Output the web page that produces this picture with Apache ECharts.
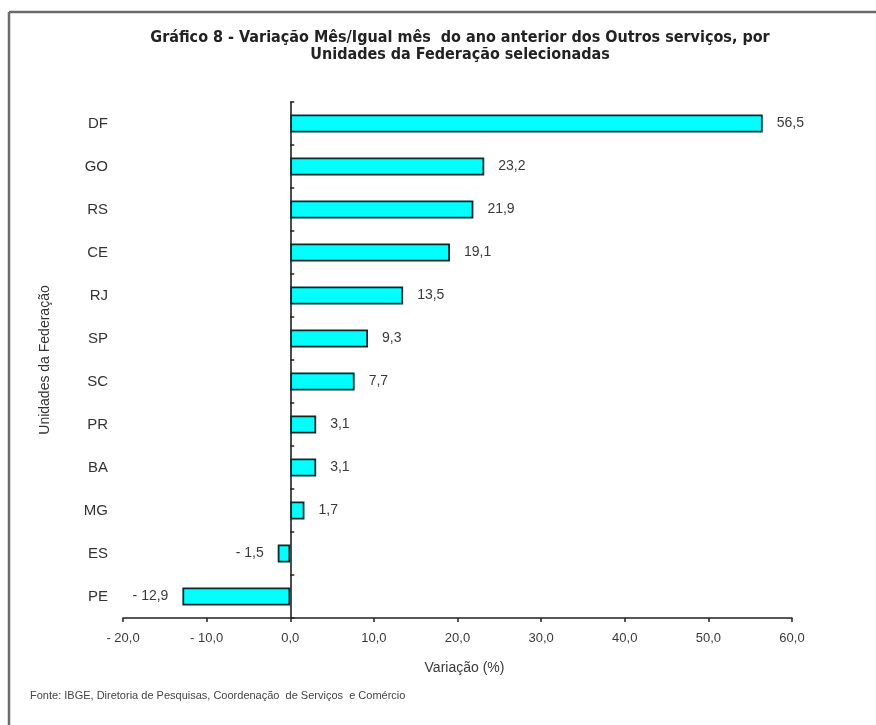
<!DOCTYPE html>
<html>
<head>
<meta charset="utf-8">
<script src="https://cdn.jsdelivr.net/npm/echarts@6/dist/echarts.min.js"></script>
<style>
  html, body { margin: 0; padding: 0; background: #fff; }
  #chart { width: 876px; height: 725px; }
</style>
</head>
<body>
<div id="chart"></div>
<script>
// Unidades da Federação, from top to bottom
const ufs = ['DF', 'GO', 'RS', 'CE', 'RJ', 'SP', 'SC', 'PR', 'BA', 'MG', 'ES', 'PE'];
// Variação mês / igual mês do ano anterior (%)
const variacao = [56.5, 23.2, 21.9, 19.1, 13.5, 9.3, 7.7, 3.1, 3.1, 1.7, -1.5, -12.9];
// Value axis range and step
const axisMin = -20;
const axisMax = 60;
const axisStep = 10;

const fmt = v => (v < 0 ? '- ' : '') + Math.abs(v).toFixed(1).replace('.', ',');

const chart = echarts.init(document.getElementById('chart'), null, { renderer: 'canvas' });

const textFont = 'Liberation Sans, Arial, sans-serif';
const titleFont = '"DejaVu Sans Condensed", "Liberation Sans Narrow", "Liberation Sans", sans-serif';

chart.setOption({
  backgroundColor: '#ffffff',
  animation: false,
  grid: { left: 123, right: 84, top: 102, bottom: 107, containLabel: false },
  xAxis: {
    type: 'value',
    min: axisMin,
    max: axisMax,
    interval: axisStep,
    splitLine: { show: false },
    axisLine: { show: true, onZero: false, lineStyle: { color: '#222', width: 1.5 } },
    axisTick: { show: true, length: 4, lineStyle: { color: '#222', width: 1.5 } },
    axisLabel: {
      formatter: fmt, color: '#3a3a3a', fontSize: 13, fontFamily: textFont, margin: 14
    },
    name: 'Variação (%)',
    nameLocation: 'middle',
    nameGap: 43,
    nameTextStyle: { color: '#3a3a3a', fontSize: 14, fontFamily: textFont, padding: [0, 0, 0, 14] }
  },
  yAxis: [
    {
      type: 'category',
      data: ufs,
      inverse: true,
      axisLine: { show: false, onZero: false },
      axisTick: { show: false },
      axisLabel: { color: '#333', fontSize: 15, fontFamily: textFont, margin: 15 },
      name: 'Unidades da Federação',
      nameLocation: 'middle',
      nameRotate: 90,
      nameGap: 71,
      nameTextStyle: { color: '#333', fontSize: 14, fontFamily: textFont }
    },
    {
      // category axis line drawn through zero, ticks between categories
      type: 'category',
      data: ufs,
      inverse: true,
      position: 'left',
      axisLine: { show: true, onZero: true, lineStyle: { color: '#111', width: 1.5 } },
      axisTick: { show: true, inside: true, length: 4, lineStyle: { color: '#222', width: 1.5 } },
      axisLabel: { show: false }
    }
  ],
  series: [{
    type: 'bar',
    yAxisIndex: 0,
    data: variacao.map(v => v < 0 ? { value: v, label: { position: 'left' } } : v),
    barWidth: 18,
    itemStyle: { color: '#00ffff', borderColor: '#0b2b2b', borderWidth: 1.8 },
    label: {
      show: true,
      formatter: p => fmt(p.value),
      position: 'right',
      distance: 14,
      color: '#3a3a3a',
      fontSize: 14,
      fontFamily: textFont
    }
  }],
  graphic: [
    // frame lines
    { type: 'line', shape: { x1: 9, y1: 12, x2: 876, y2: 12 }, style: { stroke: '#6a6a6a', lineWidth: 2.5 } },
    { type: 'line', shape: { x1: 9, y1: 12, x2: 9, y2: 725 }, style: { stroke: '#6a6a6a', lineWidth: 2.5 } },
    {
      type: 'text', x: 460, y: 30,
      style: {
        text: 'Gráfico 8 - Variação Mês/Igual mês  do ano anterior dos Outros serviços, por',
        font: 'bold 16px ' + titleFont, fill: '#222', textAlign: 'center'
      }
    },
    {
      type: 'text', x: 460, y: 47,
      style: {
        text: 'Unidades da Federação selecionadas',
        font: 'bold 16px ' + titleFont, fill: '#222', textAlign: 'center'
      }
    },
    {
      type: 'text', x: 30, y: 690,
      style: {
        text: 'Fonte: IBGE, Diretoria de Pesquisas, Coordenação  de Serviços  e Comércio',
        font: '11px ' + textFont, fill: '#444'
      }
    }
  ]
});
</script>
</body>
</html>
